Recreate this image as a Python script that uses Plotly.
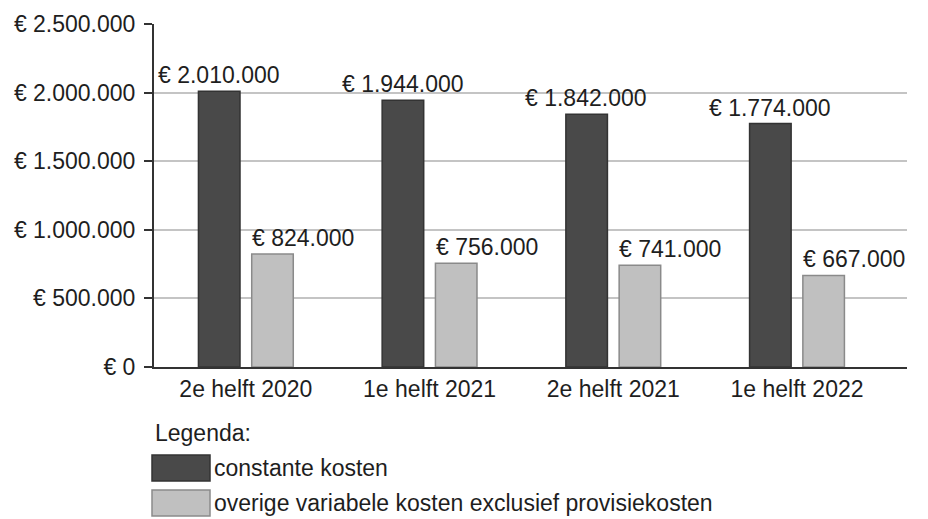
import plotly.graph_objects as go

categories = ["2e helft 2020", "1e helft 2021", "2e helft 2021", "1e helft 2022"]
constante = [2010000, 1944000, 1842000, 1774000]
overige = [824000, 756000, 741000, 667000]
tick_vals = [0, 500000, 1000000, 1500000, 2000000, 2500000]
tick_text = ["€ 0", "€ 500.000", "€ 1.000.000", "€ 1.500.000", "€ 2.000.000", "€ 2.500.000"]
series_names = ["constante kosten", "overige variabele kosten exclusief provisiekosten"]

DARK = "#494949"
LIGHT = "#c0c0c0"
FONT = "Liberation Sans, Arial, sans-serif"
FS = 23
TXT = "#1e1e1e"

def eur(v):
    return "€ " + f"{v:,}".replace(",", ".")

fig = go.Figure()
fig.add_trace(go.Bar(x=categories, y=constante, name=series_names[0],
                     marker=dict(color=DARK, line=dict(color="#333333", width=1.5)),
                     offsetgroup="a"))
fig.add_trace(go.Bar(x=categories, y=overige, name=series_names[1],
                     marker=dict(color=LIGHT, line=dict(color="#8a8a8a", width=1.5)),
                     offsetgroup="b"))

ann = []
for i, c in enumerate(categories):
    ann.append(dict(x=i, xref="x", y=constante[i], yref="y", text=eur(constante[i]),
                    showarrow=False, xanchor="center", yanchor="bottom",
                    xshift=-27, yshift=1, font=dict(size=FS, color=TXT, family=FONT)))
    ann.append(dict(x=i, xref="x", y=overige[i], yref="y", text=eur(overige[i]),
                    showarrow=False, xanchor="left", yanchor="bottom",
                    xshift=4, yshift=1, font=dict(size=FS, color=TXT, family=FONT)))

# plot area in page pixels: x 154..907, y 24..367 (page has 8px body margin)
PX0, PX1, PY0, PY1 = 154, 907, 24, 367
def px(xp):
    return (xp - PX0) / (PX1 - PX0)
def py(yp):
    return (PY1 - yp) / (PY1 - PY0)

ann.append(dict(x=px(153), y=py(433), xref="paper", yref="paper", text="Legenda:",
                showarrow=False, xanchor="left", yanchor="middle",
                font=dict(size=FS, color=TXT, family=FONT)))
shapes = []
legend_rows = [(DARK, "#333333", 468), (LIGHT, "#8a8a8a", 503)]
for (fill, line, yc), name in zip(legend_rows, series_names):
    shapes.append(dict(type="rect", xref="paper", yref="paper",
                       x0=px(152), x1=px(210), y0=py(yc - 13), y1=py(yc + 13),
                       fillcolor=fill, line=dict(color=line, width=1.5)))
    ann.append(dict(x=px(212), y=py(yc), xref="paper", yref="paper", text=name,
                    showarrow=False, xanchor="left", yanchor="middle",
                    font=dict(size=FS, color=TXT, family=FONT)))

fig.update_layout(
    width=928, height=519,
    margin=dict(l=146, r=29, t=16, b=160, autoexpand=False),
    paper_bgcolor="white", plot_bgcolor="white",
    barmode="group", bargap=0.42, bargroupgap=0.22,
    showlegend=False,
    font=dict(family=FONT, size=FS, color=TXT),
    xaxis=dict(showline=True, linecolor="#333", linewidth=2, ticks="", showgrid=False,
               tickfont=dict(size=FS), automargin=False),
    yaxis=dict(range=[0, 2500000], tickvals=tick_vals, ticktext=tick_text,
               showline=True, linecolor="#333", linewidth=2, ticks="outside",
               ticklen=8, tickcolor="#333", tickwidth=1.5, ticklabelstandoff=4,
               showgrid=True, gridcolor="#c4c4c4", gridwidth=2, zeroline=False,
               tickfont=dict(size=FS), automargin=False),
    annotations=ann, shapes=shapes,
)
fig.write_html("out.html")
